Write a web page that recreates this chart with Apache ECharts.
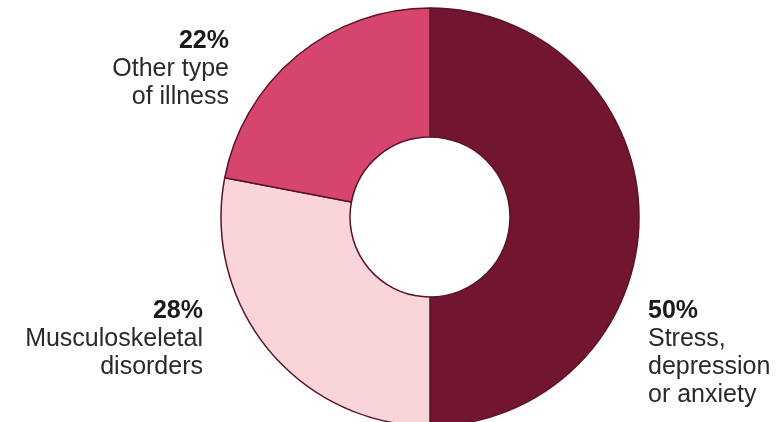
<!DOCTYPE html>
<html>
<head>
<meta charset="utf-8">
<script src="https://cdn.jsdelivr.net/npm/echarts@6/dist/echarts.min.js"></script>
<style>
  html, body { margin: 0; padding: 0; background: #fff; }
  #chart { width: 782px; height: 422px; }
</style>
</head>
<body>
<div id="chart"></div>
<script>
// slices, clockwise from 12 o'clock
const categories = ["Stress,\ndepression\nor anxiety", "Musculoskeletal\ndisorders", "Other type\nof illness"];
const shares = [50, 28, 22];
const colors = ["#72152f", "#f9d4d9", "#d5456d"];

// where each label block sits (top anchor)
const labelSpots = [
  { x: 648, y: 297, align: "left" },
  { x: 203, y: 297, align: "right" },
  { x: 229, y: 27, align: "right" }
];

const chart = echarts.init(document.getElementById("chart"));

chart.setOption({
  animation: false,
  series: [{
    type: "pie",
    center: [430, 217],
    radius: [80, 209],
    startAngle: 90,
    clockwise: true,
    data: categories.map((name, i) => ({
      name,
      value: shares[i],
      itemStyle: { color: colors[i] }
    })),
    itemStyle: { borderColor: "#5a1426", borderWidth: 1.5 },
    labelLine: { show: false },
    label: {
      show: true,
      position: "outside",
      overflow: "none",
      formatter: (p) => "{p|" + p.value + "%}\n" +
        p.name.split("\n").map((s) => "{t|" + s + "}").join("\n"),
      rich: {
        p: { fontFamily: "Liberation Sans", fontWeight: "bold", fontSize: 25, lineHeight: 28, color: "#1a1a1a" },
        t: { fontFamily: "Liberation Sans", fontSize: 25, lineHeight: 28, color: "#2a2a2a" }
      }
    },
    labelLayout: (params) => {
      const s = labelSpots[params.dataIndex];
      return { x: s.x, y: s.y, align: s.align, verticalAlign: "top" };
    }
  }]
});
</script>
</body>
</html>
